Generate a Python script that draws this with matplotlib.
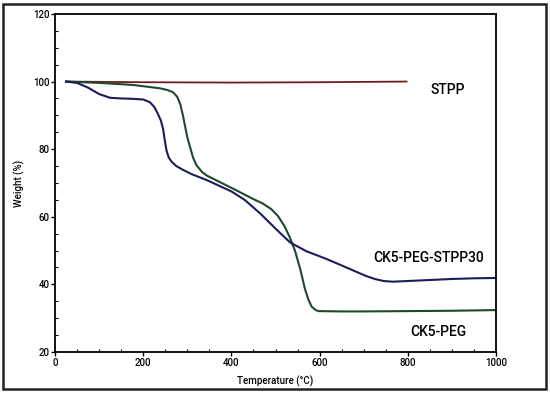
import matplotlib
matplotlib.use("Agg")
import matplotlib.pyplot as plt
from matplotlib.patches import Rectangle
from matplotlib.ticker import MultipleLocator

# CK5-PEG-STPP30 (navy)
t_stpp30 = [25, 50, 75, 100, 125, 150, 175, 200, 215, 225, 233, 240, 245, 249, 253, 258,
            265, 275, 290, 310, 345, 400, 430, 465, 500, 533, 570, 612, 650, 680, 705,
            725, 745, 765, 800, 850, 900, 950, 1000]
w_stpp30 = [100, 99.6, 98.2, 96.3, 95.2, 95.0, 94.9, 94.7, 93.9, 92.5, 90.5, 88.5, 86.0,
            82.5, 79.5, 77.5, 76.2, 75.0, 73.9, 72.6, 70.8, 67.5, 65.0, 61.0, 56.5, 52.4,
            49.8, 47.7, 45.6, 43.9, 42.5, 41.6, 41.0, 40.8, 41.0, 41.3, 41.6, 41.8, 41.9]

# CK5-PEG (green)
t_peg = [25, 100, 177, 238, 255, 268, 277, 284, 290, 295, 300, 306, 313, 321, 333, 344,
         370, 404, 450, 470, 490, 505, 520, 532, 544, 556, 567, 575, 582, 590, 597, 650,
         700, 800, 900, 1000]
w_peg = [100, 99.6, 99.0, 98.0, 97.5, 96.8, 95.5, 93.3, 90.0, 86.7, 83.5, 80.7, 77.5,
         75.2, 73.3, 72.2, 70.5, 68.3, 65.2, 64.0, 62.3, 60.3, 57.3, 54.0, 50.0, 44.5,
         38.5, 35.3, 33.4, 32.5, 32.1, 32.0, 32.0, 32.1, 32.2, 32.4]

# STPP (dark red)
t_stpp = [25, 200, 400, 600, 797]
w_stpp = [100, 99.8, 99.7, 99.8, 100]

x_ticks = [0, 200, 400, 600, 800, 1000]
y_ticks = [20, 40, 60, 80, 100, 120]

plt.rcParams['font.family'] = ['Roboto', 'DejaVu Sans']

fig = plt.figure(figsize=(5.5, 3.94), dpi=100)
ax = fig.add_axes([0.1, 0.1066, 0.802, 0.858])

ax.plot(t_stpp, w_stpp, color='#6e1c1c', lw=1.3)
ax.plot(t_peg, w_peg, color='#1d4a2c', lw=1.5)
ax.plot(t_stpp30, w_stpp30, color='#1c1c5c', lw=1.5)

ax.set_xlim(0, 1000)
ax.set_ylim(20, 120)
ax.set_xticks(x_ticks)
ax.set_yticks(y_ticks)
ax.xaxis.set_minor_locator(MultipleLocator(50))
ax.yaxis.set_minor_locator(MultipleLocator(5))
ax.tick_params(which='major', direction='out', length=3, width=1, labelsize=7, pad=1)
ax.tick_params(which='minor', direction='in', length=2, width=0.8)
for lbl in ax.get_xticklabels() + ax.get_yticklabels():
    lbl.set_fontweight('medium')
for s in ax.spines.values():
    s.set_linewidth(1.3)

ax.set_xlabel('Temperature (°C)', fontsize=7, labelpad=6, fontweight='medium')
ax.set_ylabel('Weight (%)', fontsize=7, labelpad=6, fontweight='medium')

ax.text(891, 97.4, 'STPP', fontsize=10, ha='center', va='center', fontweight='medium')
ax.text(846, 47.8, 'CK5-PEG-STPP30', fontsize=10, ha='center', va='center', fontweight='medium')
ax.text(868, 25.9, 'CK5-PEG', fontsize=10, ha='center', va='center', fontweight='medium')

fig.patches.append(Rectangle((3/550, 1-389/394), 543/550, 385/394, transform=fig.transFigure,
                             fill=False, edgecolor='#222222', lw=1.8))

fig.savefig('out.png', dpi=100)
